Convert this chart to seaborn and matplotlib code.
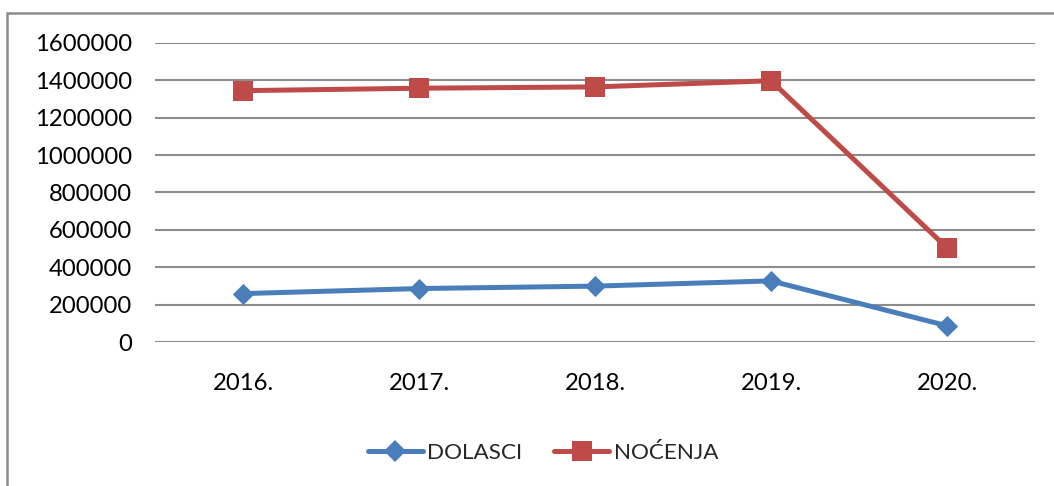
import matplotlib
matplotlib.use("Agg")
import matplotlib.pyplot as plt
import seaborn as sns
import pandas as pd
from matplotlib.lines import Line2D
from matplotlib.patches import Rectangle

years = ["2016.", "2017.", "2018.", "2019.", "2020."]
dolasci = [259000, 286000, 299000, 327000, 87000]
nocenja = [1345000, 1358000, 1365000, 1398000, 504000]
series_names = ["DOLASCI", "NOĆENJA"]
yticks = [0, 200000, 400000, 600000, 800000, 1000000, 1200000, 1400000, 1600000]

df = pd.DataFrame({
    "year": years * 2,
    "value": dolasci + nocenja,
    "series": [series_names[0]] * len(years) + [series_names[1]] * len(years),
})

sns.set_theme(style="white")
plt.rcParams["font.family"] = ["Lato", "DejaVu Sans"]

colors = {"DOLASCI": "#4A7EBB", "NOĆENJA": "#BE4B48"}
markers = {"DOLASCI": "D", "NOĆENJA": "s"}
msizes = {"DOLASCI": 10.8, "NOĆENJA": 15}
FS = 17.2

fig = plt.figure(figsize=(10.54, 4.86), dpi=100)
ax = fig.add_axes([155 / 1054, 1 - 342 / 486, 880 / 1054, 299 / 486])

sns.lineplot(data=df, x="year", y="value", hue="series", palette=colors,
             sort=False, lw=3.6, legend=False, ax=ax, zorder=3)

for s in series_names:
    sub = df[df.series == s]
    sns.scatterplot(data=sub, x="year", y="value", color=colors[s], marker=markers[s],
                    s=(msizes[s]) ** 2, linewidth=0, legend=False, ax=ax, zorder=4)

ax.set_xlim(-0.5, 4.5)
ax.set_ylim(0, 1600000)
ax.set_yticks(yticks)
ax.set_yticklabels([str(v) for v in yticks])
ax.yaxis.grid(True, color="#8C8C8C", lw=1.5)
ax.set_axisbelow(True)
for sp in ax.spines.values():
    sp.set_visible(False)
ax.set_xlabel("")
ax.set_ylabel("")
ax.tick_params(axis="both", length=0, labelsize=FS, colors="#000000")
ax.tick_params(axis="y", pad=16.5)
ax.tick_params(axis="x", pad=22)

handles = [
    Line2D([], [], color=colors["DOLASCI"], lw=3.6, marker="D", markersize=10.8, markeredgewidth=0),
    Line2D([], [], color=colors["NOĆENJA"], lw=3.6, marker="s", markersize=15, markeredgewidth=0),
]
fig.legend(handles, series_names, loc="center", bbox_to_anchor=(543 / 1054, 1 - 453 / 486),
           ncol=2, frameon=False, fontsize=16.2, handlelength=2.45, handletextpad=0.2,
           columnspacing=1.4)

fig.patches.append(Rectangle((7 / 1054, -0.1), 1.2, 1.1 - 13 / 486, transform=fig.transFigure,
                             fill=False, edgecolor="#8C8C8C", lw=1.8))

fig.savefig("out.png", dpi=100)
